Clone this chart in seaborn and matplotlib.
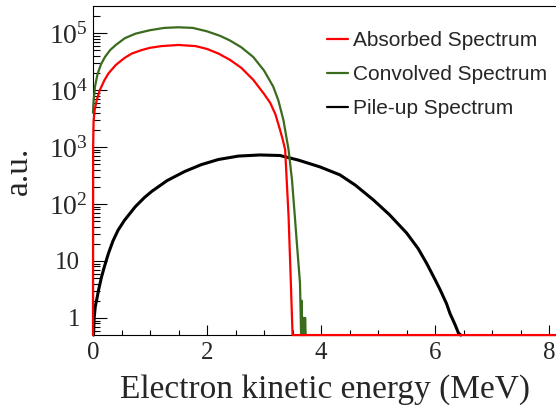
import numpy as np
import pandas as pd
import matplotlib
matplotlib.use("Agg")
import matplotlib.pyplot as plt
from matplotlib.ticker import FixedLocator, FixedFormatter, MultipleLocator, LogLocator, NullFormatter
from matplotlib.transforms import ScaledTranslation
import seaborn as sns

# ---- spectra (energy in MeV, counts in arbitrary units) ----
energy_absorbed = [0.0, 0.002, 0.01, 0.03, 0.065, 0.12, 0.20, 0.27, 0.40, 0.55, 0.68,
                   0.85, 1.00, 1.20, 1.50, 1.80, 2.00, 2.20, 2.40, 2.60, 2.81, 3.00,
                   3.11, 3.20, 3.28, 3.33, 3.37, 3.43, 3.47, 3.50, 8.12]
counts_absorbed = [0.5, 1000, 2820, 4470, 6610, 10000, 14800, 19500, 27500, 36300, 43600,
                   50100, 55000, 58900, 61700, 58900, 52500, 43600, 33900, 24500, 15100, 8510,
                   5890, 3720, 2000, 1320, 891, 60, 4.1, 0.5, 0.5]

energy_convolved = [0.0, 0.01, 0.035, 0.08, 0.14, 0.21, 0.30, 0.40, 0.56, 0.75, 1.00,
                    1.25, 1.50, 1.75, 2.00, 2.23, 2.40, 2.60, 2.81, 3.00, 3.16, 3.25,
                    3.34, 3.43, 3.49, 3.54, 3.58, 3.63, 3.65, 3.66, 3.67, 3.68, 3.69,
                    3.70, 3.71, 3.72, 3.73]
counts_convolved = [3980, 6310, 11500, 19100, 28200, 38000, 50100, 61700, 81300, 97700, 112000,
                    123000, 126000, 123000, 107000, 89100, 74100, 56200, 38000, 21900, 11500, 6610,
                    2950, 891, 263, 60, 17.8, 4.1, 0.5, 2.0, 0.5, 1.0, 0.5,
                    1.0, 0.5, 1.0, 0.5]

energy_pileup = [0.01, 0.02, 0.04, 0.065, 0.10, 0.15, 0.20, 0.27, 0.35, 0.44, 0.55,
                 0.74, 0.90, 1.03, 1.30, 1.61, 1.90, 2.20, 2.55, 2.93, 3.28, 3.60,
                 3.98, 4.33, 4.60, 4.92, 5.20, 5.50, 5.70, 5.85, 6.00, 6.09, 6.20,
                 6.26, 6.35, 6.41, 6.45]
counts_pileup = [0.5, 1.0, 1.58, 2.09, 3.16, 5.25, 7.94, 13.5, 22.4, 34.7, 51.3,
                 89.1, 129, 166, 257, 372, 490, 603, 692, 724, 708, 589,
                 447, 324, 214, 117, 64.6, 30.9, 16.6, 9.12, 4.68, 3.09, 1.78,
                 1.20, 0.76, 0.54, 0.5]

series_names = ["Absorbed Spectrum", "Convolved Spectrum", "Pile-up Spectrum"]
series_colors = ["#ff0000", "#3b6b1c", "#000000"]

ytick_values = [1, 10, 1e2, 1e3, 1e4, 1e5]
ytick_labels = ["1", "10", "$10^{2}$", "$10^{3}$", "$10^{4}$", "$10^{5}$"]
xtick_values = [0, 2, 4, 6, 8]

sns.set_style("ticks")
plt.rcParams["font.family"] = ["Liberation Serif", "DejaVu Serif"]
plt.rcParams["mathtext.fontset"] = "custom"
plt.rcParams["mathtext.rm"] = "Liberation Serif"
plt.rcParams["mathtext.it"] = "Liberation Serif:italic"
plt.rcParams["mathtext.bf"] = "Liberation Serif:bold"

W, H = 556, 411
fig = plt.figure(figsize=(W / 100, H / 100), dpi=100)
ax = fig.add_axes([93 / W, 1 - 335 / H, (W - 93) / W, (335 - 6) / H])

frames = [
    pd.DataFrame({"E": energy_pileup, "N": counts_pileup}),
    pd.DataFrame({"E": energy_convolved, "N": counts_convolved}),
    pd.DataFrame({"E": energy_absorbed, "N": counts_absorbed}),
]
order = [2, 1, 0]
widths = {0: 1.6, 1: 1.6, 2: 2.2}
for df, idx in zip(frames, order):
    sns.lineplot(data=df, x="E", y="N", ax=ax, estimator=None, sort=False,
                 color=series_colors[idx], lw=widths[idx], clip_on=False,
                 zorder=3 + (2 - idx), legend=False)

ax.set_yscale("log")
ax.set_xlim(0, 8.12)
ax.set_ylim(10 ** -0.3, 10 ** 5.474)

ax.yaxis.set_major_locator(FixedLocator(ytick_values))
ax.yaxis.set_major_formatter(FixedFormatter(ytick_labels))
ax.yaxis.set_minor_locator(LogLocator(base=10, subs=np.arange(2, 10), numticks=20))
ax.yaxis.set_minor_formatter(NullFormatter())
ax.xaxis.set_major_locator(FixedLocator(xtick_values))
ax.xaxis.set_minor_locator(MultipleLocator(0.5))

ax.tick_params(axis="both", which="both", direction="in", color="black", width=0.8)
ax.tick_params(axis="y", which="major", length=9.8, pad=3.5, labelsize=18)
ax.tick_params(axis="y", which="minor", length=5.2)
ax.tick_params(axis="x", which="major", length=7.2, pad=5, labelsize=18)
ax.tick_params(axis="x", which="minor", length=3.8)
ax.tick_params(top=False, right=False, which="both")

for side in ["left", "bottom", "top"]:
    ax.spines[side].set_color("black")
    ax.spines[side].set_linewidth(0.8)
ax.spines["right"].set_visible(False)

ax.set_xlabel("Electron kinetic energy (MeV)", fontsize=24)
ax.set_ylabel("a.u.", fontsize=24)
ax.xaxis.set_label_coords(0.5, -0.118)
ax.yaxis.set_label_coords(-0.128, 0.5)

# plain labels sit a little further from the axis; power labels are drawn larger
yticks = ax.yaxis.get_major_ticks(len(ytick_values))
for i, tick in enumerate(yticks):
    if i < 2:
        tick.label1.set_transform(tick.label1.get_transform()
                                  + ScaledTranslation(-8 / 100, 0, fig.dpi_scale_trans))
    else:
        tick.label1.set_fontsize(20)

handles = [plt.Line2D([], [], color=c, lw=1.6) for c in series_colors]
leg = ax.legend(handles, series_names, loc="upper left",
                bbox_to_anchor=(327 / W, 1 - 31 / H), bbox_transform=fig.transFigure,
                frameon=False, borderpad=0, borderaxespad=0, handlelength=1.0,
                handletextpad=0.25, labelspacing=0.72,
                prop={"family": "Liberation Sans", "size": 15})

fig.savefig("out.png", dpi=100, facecolor="white")
